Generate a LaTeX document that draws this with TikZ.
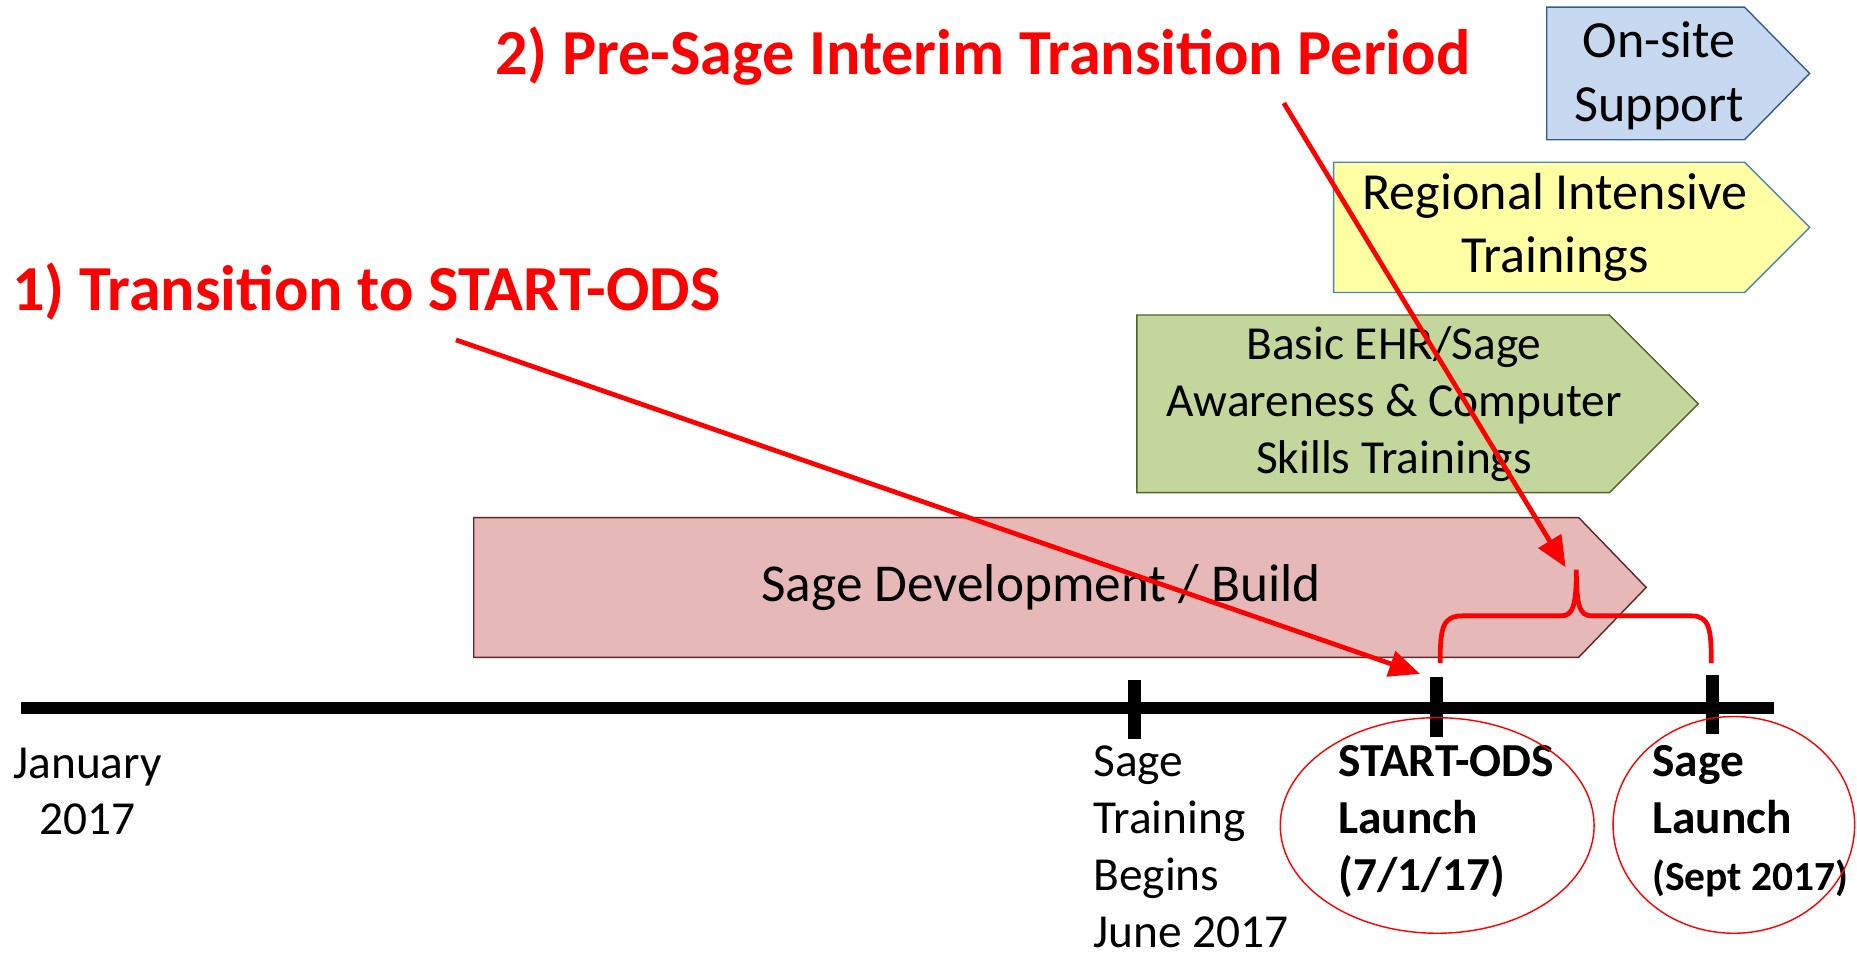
\documentclass[tikz,border=0pt]{standalone}
\usepackage{fontspec}
\setmainfont{Carlito}
\usetikzlibrary{arrows.meta,shapes.geometric}
\definecolor{devfill}{HTML}{E6B9B8}
\definecolor{devline}{HTML}{632523}
\definecolor{basfill}{HTML}{C3D69B}
\definecolor{basline}{HTML}{4F6228}
\definecolor{regfill}{HTML}{FFFFA3}
\definecolor{regline}{HTML}{4F81BD}
\definecolor{sitfill}{HTML}{C6D9F1}
\definecolor{sitline}{HTML}{385D8A}
\tikzset{
  phase/.style={line width=1.2pt, line join=miter},
  phtext/.style={align=center, inner sep=0pt, font=\fontsize{44}{53.5}\selectfont},
  mktext/.style={align=left, anchor=base west, inner sep=0pt, font=\fontsize{40}{48}\selectfont},
  redtitle/.style={text=red, inner sep=0pt, anchor=base west, font=\bfseries\fontsize{54.2}{65}\selectfont},
  callout/.style={red, line width=4pt, -{Triangle[length=26pt,width=22pt]}},
  ring/.style={draw=red, line width=1.2pt, ellipse, inner sep=0pt},
  tick/.style={fill=black, inner sep=0pt, minimum width=11pt, minimum height=50pt},
}
\begin{document}
\begin{tikzpicture}[x=1pt,y=-1pt]
\useasboundingbox (0,0) rectangle (1568,805);
\draw[phase, fill=devfill, draw=devline] (400,437) -- (1333,437) -- (1390,496) -- (1333,555) -- (400,555) -- cycle;
\node[phtext, font=\fontsize{45}{54}\selectfont] (ph0) at (879,496) {Sage Development / Build};
\draw[phase, fill=basfill, draw=basline] (960,266) -- (1359,266) -- (1434,341) -- (1359,416) -- (960,416) -- cycle;
\node[phtext, font=\fontsize{40}{48}\selectfont] (ph1) at (1177,341) {Basic EHR/Sage\\Awareness \& Computer\\Skills Trainings};
\draw[phase, fill=regfill, draw=regline] (1126,137) -- (1473,137) -- (1528,192) -- (1473,247) -- (1126,247) -- cycle;
\node[phtext] (ph2) at (1313,192) {Regional Intensive\\Trainings};
\draw[phase, fill=sitfill, draw=sitline] (1306,6) -- (1473,6) -- (1528,62) -- (1473,118) -- (1306,118) -- cycle;
\node[phtext] (ph3) at (1401,64) {On-site\\Support};
\coordinate (tl0) at (18,598);
\coordinate (tl1) at (1498,598);
\draw[line width=10.4pt] (tl0) -- (tl1);
\node[tick] (mk0) at (958,599) {};
\node[tick] (mk1) at (1213,597) {};
\node[tick] (mk2) at (1446,595) {};
\node[mktext, align=center, anchor=base] (lb0) at (74,705) {January\\2017};
\node[mktext] (lb1) at (923,800) {Sage\\Training\\Begins\\June 2017};
\node[mktext, font=\bfseries\fontsize{40}{48}\selectfont] (lb2) at (1130,752) {START-ODS\\Launch\\(7/1/17)};
\node[mktext, font=\bfseries\fontsize{40}{48}\selectfont] (lb3) at (1395,752) {Sage\\Launch\\{\fontsize{35}{48}\selectfont(Sept 2017)}};
\node[ring, minimum width=265pt, minimum height=182pt] (rg0) at (1213.5,697) {};
\node[ring, minimum width=204pt, minimum height=183pt] (rg1) at (1464,696.5) {};
\node[redtitle] (tt0) at (10,262) {1) Transition to START-ODS};
\node[redtitle] (tt1) at (418,63) {2) Pre-Sage Interim Transition Period};
\coordinate (br0) at (1216,560);
\coordinate (br1) at (1331,481);
\coordinate (br2) at (1445,560);
\draw[red, line width=4pt] (br0) .. controls (1216,530) and (1218,520) .. (1235,520) -- (1318,520) .. controls (1328,520) and (1331,512) .. (br1) .. controls (1331,512) and (1334,520) .. (1344,520) -- (1428,520) .. controls (1443,520) and (1445,530) .. (br2);
\coordinate (ar0) at (385,287);
\coordinate (ar1) at (1199,569);
\coordinate (ar2) at (1084,87);
\coordinate (ar3) at (1322,479);
\draw[callout] (ar0) -- (ar1);
\draw[callout] (ar2) -- (ar3);
\end{tikzpicture}
\end{document}
